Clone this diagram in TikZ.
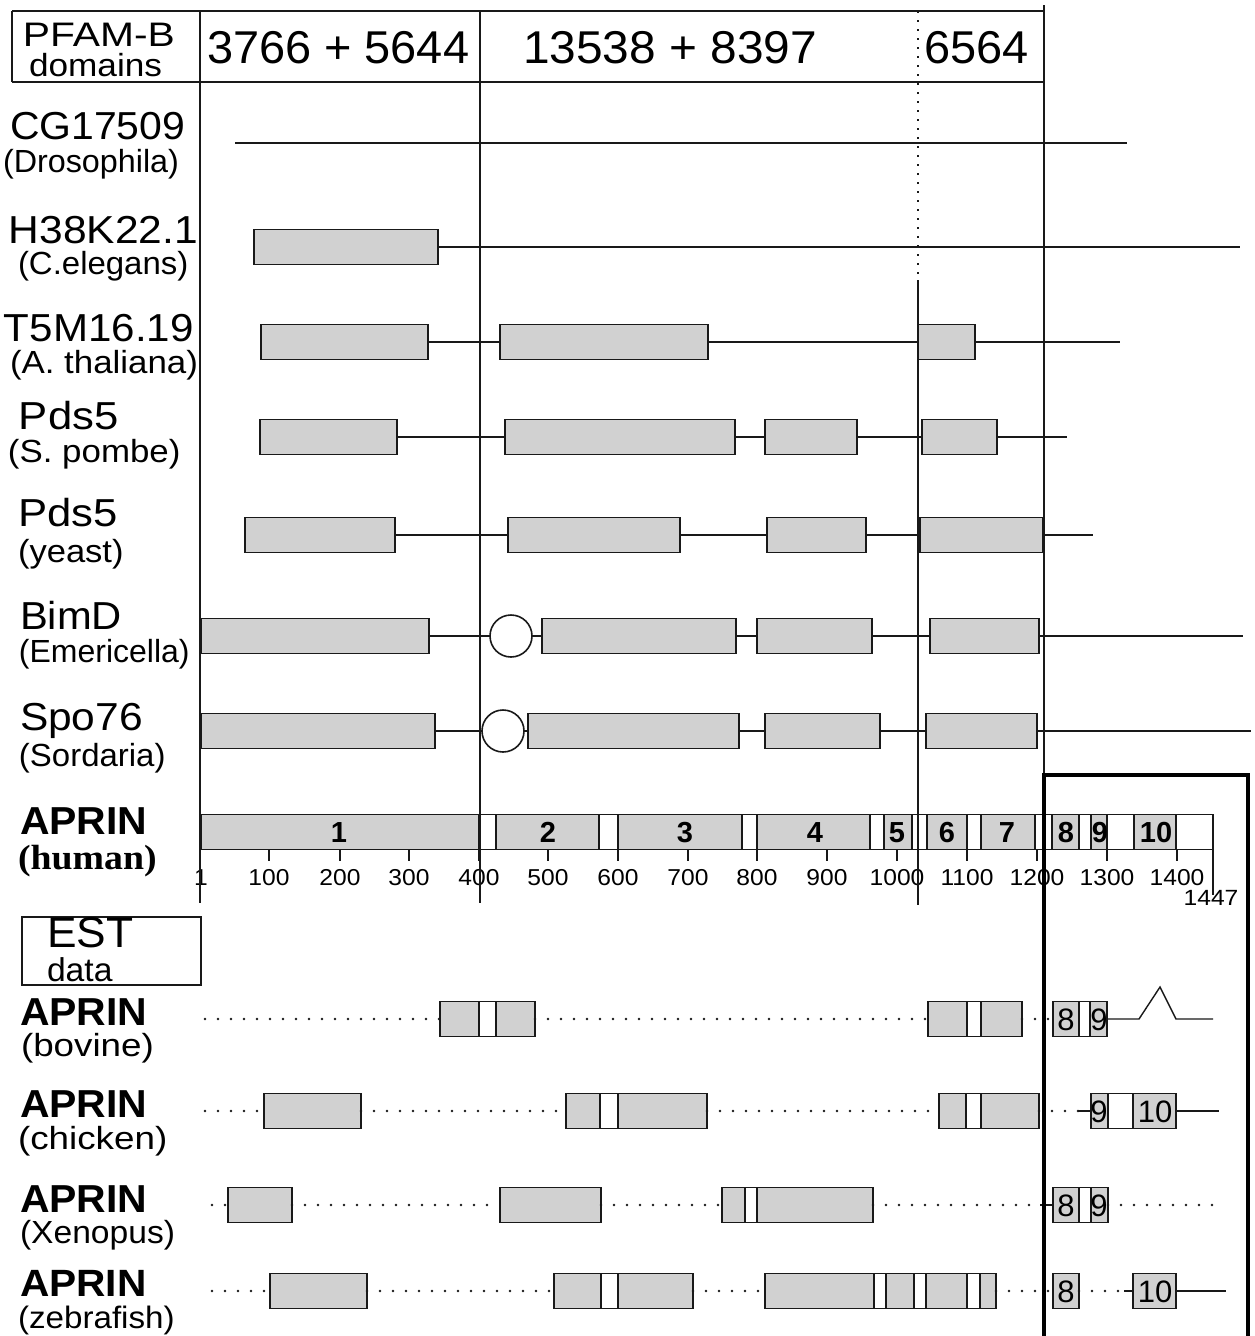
\documentclass[tikz,border=0pt]{standalone}
\usepackage{fontspec}
\setmainfont{Liberation Sans}
\newfontfamily\serifbf{Liberation Serif}
\usepackage{graphicx}
\newcommand\hstr[2]{\scalebox{#1}[1]{#2}}
\newcommand\fsz[1]{\fontsize{#1}{#1}\selectfont}
\definecolor{boxgray}{gray}{0.82}
\definecolor{ink}{gray}{0.1}
\tikzset{
  dom/.style={draw=ink, line width=1.8pt, fill=boxgray, inner sep=0pt, outer sep=0pt, minimum height=35pt, anchor=west},
  gapw/.style={draw=ink, line width=1.8pt, fill=white},
  conn/.style={draw=ink, line width=1.4pt},
  dots/.style={draw=ink, line width=2.8pt, dash pattern=on 0pt off 13pt, line cap=round},
  guide/.style={draw=ink, line width=1.5pt},
  lab/.style={anchor=base west, inner sep=0pt, outer sep=0pt},
  num/.style={anchor=base, inner sep=0pt, outer sep=0pt},
  pcirc/.style={circle, draw=ink, line width=1.6pt, fill=white, minimum size=42pt, inner sep=0pt, outer sep=0pt},
}
\newcommand\dbox[4]{\node[dom, minimum width={#3pt-#2pt}] (#1) at (#2,#4) {};}
\newcommand\wgap[3]{\draw[gapw] (#1,#3-17.5) rectangle (#2,#3+17.5);}
\begin{document}
\begin{tikzpicture}[x=1pt,y=-1pt]
\useasboundingbox (0,0) rectangle (1254,1336);
\fill[white] (0,0) rectangle (1254,1336);

% ---------- header ----------
\draw[guide, line width=1.9pt] (12,11) -- (1044,11) (12,82) -- (1044,82) (12,11) -- (12,82);
\node[lab] (lpf) at (23,46) {\fsz{34}\hstr{1.2}{PFAM-B}};
\node[lab] (ldom) at (29,76) {\fsz{32}\hstr{1.1}{domains}};
\node[lab] (hd1) at (207,63) {\fsz{46}\hstr{1.02}{3766 + 5644}};
\node[lab] (hd2) at (523,63) {\fsz{46}\hstr{1.04}{13538 + 8397}};
\node[lab] (hd3) at (924,63) {\fsz{46}\hstr{1.02}{6564}};

% ---------- left labels ----------
\node[lab] (l1) at (10,139) {\fsz{39}\hstr{1.05}{CG17509}};
\node[lab] (l1s) at (3,172) {\fsz{32}\hstr{1.01}{(Drosophila)}};
\node[lab] (l2) at (9,243) {\fsz{39}\hstr{1.09}{H38K22.1}};
\node[lab] (l2s) at (18,274) {\fsz{32}\hstr{1.03}{(C.elegans)}};
\node[lab] (l3) at (4,341) {\fsz{39}\hstr{1.08}{T5M16.19}};
\node[lab] (l3s) at (10,373) {\fsz{32}\hstr{1.09}{(A. thaliana)}};
\node[lab] (l4) at (19,429) {\fsz{39}\hstr{1.12}{Pds5}};
\node[lab] (l4s) at (8,462) {\fsz{32}\hstr{1.09}{(S. pombe)}};
\node[lab] (l5) at (18,526) {\fsz{39}\hstr{1.12}{Pds5}};
\node[lab] (l5s) at (18,562) {\fsz{32}\hstr{1.08}{(yeast)}};
\node[lab] (l6) at (20,629) {\fsz{39}\hstr{1.07}{BimD}};
\node[lab] (l6s) at (19,662) {\fsz{32}\hstr{1.0}{(Emericella)}};
\node[lab] (l7) at (20,730) {\fsz{39}\hstr{1.09}{Spo76}};
\node[lab] (l7s) at (19,766) {\fsz{32}\hstr{1.03}{(Sordaria)}};
\node[lab] (l8) at (20,834) {\fsz{39}\bfseries\hstr{1.05}{APRIN}};
\node[lab] (l8s) at (18,869) {\fsz{35}\serifbf\bfseries\hstr{1.08}{(human)}};

% ---------- CG17509 ----------
\coordinate (cga) at (235,143);
\coordinate (cgb) at (1127,143);
\draw[conn] (cga) -- (cgb);

% ---------- H38K22.1 ----------
\dbox{ha}{254}{438}{247}
\coordinate (he) at (1240,247);
\draw[conn] (ha.east) -- (he);

% ---------- T5M16.19 ----------
\dbox{ta}{261}{428}{342}
\dbox{tb}{500}{708}{342}
\dbox{tc}{918}{975}{342}
\coordinate (te) at (1120,342);
\draw[conn] (ta.east) -- (tb.west) (tb.east) -- (tc.west) (tc.east) -- (te);

% ---------- Pds5 S. pombe ----------
\dbox{pa}{260}{397}{437}
\dbox{pb}{505}{735}{437}
\dbox{pc}{765}{857}{437}
\dbox{pd}{922}{997}{437}
\coordinate (pe) at (1067,437);
\draw[conn] (pa.east) -- (pb.west) (pc.east) -- (pd.west) (pd.east) -- (pe);
\draw[conn, line width=2.2pt] (pb.east) -- (pc.west);

% ---------- Pds5 yeast ----------
\dbox{ya}{245}{395}{535}
\dbox{yb}{508}{680}{535}
\dbox{yc}{767}{866}{535}
\dbox{yd}{920}{1043}{535}
\coordinate (ye) at (1093,535);
\draw[conn] (ya.east) -- (yb.west) (yb.east) -- (yc.west) (yc.east) -- (yd.west) (yd.east) -- (ye);

% ---------- BimD ----------
\dbox{ba}{201}{429}{636}
\node[pcirc] (bc) at (511,636) {};
\dbox{bb}{542}{736}{636}
\dbox{bd}{757}{872}{636}
\dbox{bf}{930}{1039}{636}
\coordinate (be) at (1243,636);
\draw[conn] (ba.east) -- (bc.west) (bc.east) -- (bb.west) (bb.east) -- (bd.west) (bd.east) -- (bf.west) (bf.east) -- (be);

% ---------- Spo76 ----------
\dbox{sa}{201}{435}{731}
\node[pcirc] (sc) at (503,731) {};
\dbox{sb}{528}{739}{731}
\dbox{sd}{765}{880}{731}
\dbox{sf}{926}{1037}{731}
\coordinate (se) at (1251,731);
\draw[conn] (sa.east) -- (sc.west) (sc.east) -- (sb.west) (sb.east) -- (sd.west) (sd.east) -- (sf.west) (sf.east) -- (se);

% ---------- APRIN human bar ----------
\dbox{hb}{201}{1213}{832}
\foreach \a/\b in {479/496, 599/618, 742/757, 870/884, 912/927, 967/981, 1035/1052, 1079/1091, 1107/1134, 1176/1213}
  {\wgap{\a}{\b}{832}}
\foreach \x/\t in {339/1, 548/2, 685/3, 815/4, 897/5, 947/6, 1007/7, 1066/8, 1100/9, 1156/10}
  {\node[num] (hn\t) at (\x,842) {\fsz{29}\bfseries \t};}
% ticks
\foreach \x/\t in {269/100, 340/200, 409/300, 479/400, 548/500, 618/600, 688/700, 757/800, 827/900, 897/1000, 967/1100, 1037/1200, 1107/1300, 1177/1400}
  {\draw[guide] (\x,849.5) -- (\x,861);
   \node[num] (tk\t) at (\x,885) {\fsz{23}\hstr{1.07}{\t}};}
\node[num] (tk1) at (201,885) {\fsz{23}\hstr{1.07}{1}};
\draw[guide] (1213,849.5) -- (1213,895);
\node[num] (tk1447) at (1211,905) {\fsz{22}\hstr{1.12}{1447}};

% ---------- guide lines ----------
\draw[guide] (200,11) -- (200,903);
\draw[guide] (480,11) -- (480,903);
\draw[guide, line width=1.3pt, dash pattern=on 2pt off 7pt] (918,11) -- (918,280);
\draw[guide] (918,280) -- (918,905);
\draw[guide] (1044,5) -- (1044,775);

% ---------- EST ----------
\draw[draw=ink, line width=1.6pt] (22,917) rectangle (201,985);
\node[lab] (lest) at (47,947) {\fsz{43}\hstr{1.03}{EST}};
\node[lab] (ldata) at (47,981) {\fsz{33}\hstr{1.02}{data}};

\node[lab] (l9) at (20,1025) {\fsz{39}\bfseries\hstr{1.05}{APRIN}};
\node[lab] (l9s) at (21,1056) {\fsz{32}\hstr{1.15}{(bovine)}};
\node[lab] (l10) at (20,1117) {\fsz{39}\bfseries\hstr{1.05}{APRIN}};
\node[lab] (l10s) at (18,1149) {\fsz{32}\hstr{1.15}{(chicken)}};
\node[lab] (l11) at (20,1212) {\fsz{39}\bfseries\hstr{1.05}{APRIN}};
\node[lab] (l11s) at (20,1243) {\fsz{32}\hstr{1.05}{(Xenopus)}};
\node[lab] (l12) at (20,1296) {\fsz{38}\bfseries\hstr{1.07}{APRIN}};
\node[lab] (l12s) at (18,1328) {\fsz{31}\hstr{1.07}{(zebrafish)}};

% bovine
\coordinate (bv0) at (205,1019);
\dbox{bva}{440}{535}{1019} \wgap{479}{496}{1019}
\dbox{bvb}{928}{1022}{1019} \wgap{967}{981}{1019}
\dbox{bvc}{1053}{1107}{1019} \wgap{1079}{1090}{1019}
\node[num] (bv8) at (1066,1030) {\fsz{31}8};
\node[num] (bv9) at (1099,1030) {\fsz{31}9};
\coordinate (bvp) at (1139,1019);
\coordinate (bvq) at (1160,987);
\coordinate (bvr) at (1176,1019);
\coordinate (bve) at (1213,1019);
\draw[dots] (bv0) -- (bva.west) (bva.east) -- (bvb.west) (bvb.east) -- (bvc.west);
\draw[conn] (bvc.east) -- (bvp) -- (bvq) -- (bvr) -- (bve);

% chicken
\coordinate (ck0) at (205,1111);
\dbox{cka}{264}{361}{1111}
\dbox{ckb}{566}{707}{1111} \wgap{600}{618}{1111}
\dbox{ckc}{939}{1039}{1111} \wgap{966}{981}{1111}
\coordinate (ckm) at (1078,1111);
\dbox{ckd}{1091}{1176}{1111} \wgap{1108}{1133}{1111}
\node[num] (ck9) at (1099,1122) {\fsz{31}9};
\node[num] (ck10) at (1155,1122) {\fsz{31}10};
\coordinate (cke) at (1219,1111);
\draw[dots] (ck0) -- (cka.west) (cka.east) -- (ckb.west) (ckb.east) -- (ckc.west) (ckc.east) -- (ckm);
\draw[conn] (ckm) -- (ckd.west) (ckd.east) -- (cke);

% Xenopus
\coordinate (xn0) at (212,1205);
\dbox{xna}{228}{292}{1205}
\dbox{xnb}{500}{601}{1205}
\dbox{xnc}{722}{873}{1205} \wgap{745}{757}{1205}
\coordinate (xnm) at (1040,1205);
\dbox{xnd}{1053}{1108}{1205} \wgap{1079}{1091}{1205}
\node[num] (xn8) at (1066,1216) {\fsz{31}8};
\node[num] (xn9) at (1099,1216) {\fsz{31}9};
\coordinate (xne) at (1216,1205);
\draw[dots] (xn0) -- (xna.west) (xna.east) -- (xnb.west) (xnb.east) -- (xnc.west) (xnc.east) -- (xnm) (xnd.east) -- (xne);
\draw[conn] (xnm) -- (xnd.west);

% zebrafish
\coordinate (zf0) at (212,1291);
\dbox{zfa}{270}{367}{1291}
\dbox{zfb}{554}{693}{1291} \wgap{601}{618}{1291}
\dbox{zfc}{765}{996}{1291} \wgap{874}{886}{1291} \wgap{914}{926}{1291} \wgap{967}{980}{1291}
\dbox{zfd}{1053}{1079}{1291}
\coordinate (zfm) at (1124,1291);
\dbox{zfe}{1133}{1176}{1291}
\node[num] (zf8) at (1066,1302) {\fsz{31}8};
\node[num] (zf10) at (1155,1302) {\fsz{31}10};
\coordinate (zfz) at (1226,1291);
\draw[dots] (zf0) -- (zfa.west) (zfa.east) -- (zfb.west) (zfb.east) -- (zfc.west) (zfc.east) -- (zfd.west) (zfd.east) -- (zfm);
\draw[conn] (zfm) -- (zfe.west) (zfe.east) -- (zfz);

% ---------- thick frame ----------
\draw[draw=black, line width=3.8pt] (1044,1345) -- (1044,775) -- (1248,775) -- (1248,1345);
\end{tikzpicture}
\end{document}
